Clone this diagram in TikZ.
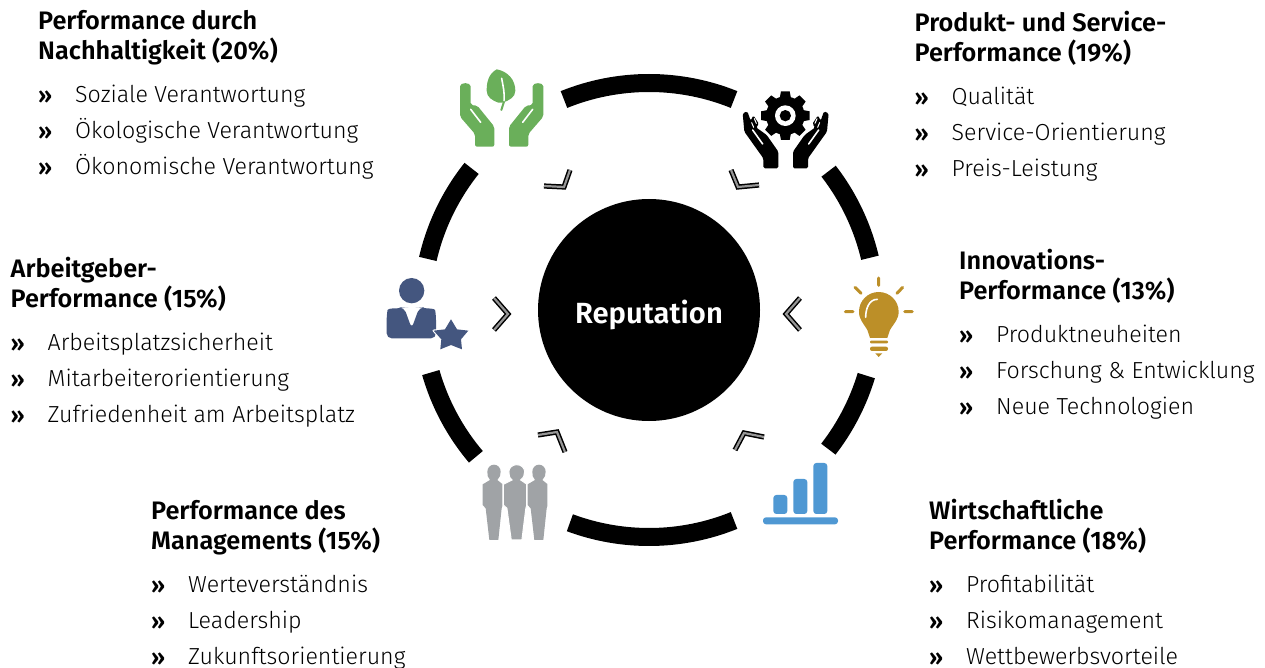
\documentclass[tikz,border=0pt]{standalone}
\usepackage{fontspec}
\usetikzlibrary{calc}
\setmainfont{Fira Sans Light}
\newfontfamily\headfont{Fira Sans SemiBold}
\definecolor{leafgreen}{HTML}{6AAF5A}
\definecolor{bulbgold}{HTML}{BC8F28}
\definecolor{chartblue}{HTML}{4F98D3}
\definecolor{peoplegray}{HTML}{A0A3A6}
\definecolor{staffblue}{HTML}{44567F}
\definecolor{chevgray}{HTML}{969696}
\tikzset{
  ringarc/.style={line width=18pt,black},
  chevout/.style={line width=5.2pt,black,miter limit=10},
  chevin/.style={line width=2.2pt,chevgray,miter limit=10},
  headtext/.style={anchor=base west,inner sep=0pt,font=\headfont\fontsize{25.3}{25}\selectfont,text=black},
  bodytext/.style={anchor=base west,inner sep=0pt,font=\fontsize{23.2}{24}\selectfont,text=black},
  bullettext/.style={anchor=base west,inner sep=0pt,font=\headfont\fontsize{23}{24}\selectfont,text=black},
  whitecut/.style={draw=white,line cap=round,line join=round},
}
\newcommand{\infogroup}[8]{%
  \node[headtext] (#1h1) at (#2,#3) {#4};
  \node[headtext] (#1h2) at (#2,#3+30) {#5};
  \node[bullettext] (#1m1) at (#2,#3+74) {»};
  \node[bullettext] (#1m2) at (#2,#3+110) {»};
  \node[bullettext] (#1m3) at (#2,#3+146) {»};
  \node[bodytext] (#1b1) at (#2+37,#3+73) {#6};
  \node[bodytext] (#1b2) at (#2+37,#3+109) {#7};
  \node[bodytext] (#1b3) at (#2+37,#3+145) {#8};
}
\newcommand{\chev}[3]{%
  \draw[chevout] #1 -- #2 -- #3;
  \draw[chevin] #1 -- #2 -- #3;
}
\newcommand{\leafhand}{%
  \fill[leafgreen,rounded corners=2pt] (60,85) to[out=90,in=90,looseness=1.5] (92,85) -- (92,135) -- (112,137) -- (163,200) -- (163,260) -- (105,260) -- (105,222) -- (60,170) -- cycle;
  \draw[whitecut,line width=1.6pt] (92,148) -- (122,187);
}
\newcommand{\gearhand}{%
  \fill[black,rounded corners=1.5pt] (98,100) -- (112,94) -- (122,122) -- (130,106) -- (147,132) -- (138,142) -- (170,165) -- (205,215) -- (205,265) -- (160,265) -- (160,235) -- (103,155) -- cycle;
  \draw[whitecut,line width=1.6pt] (128,150) -- (158,192);
  \draw[whitecut,line width=1pt] (125,128) -- (131,142);
  \draw[whitecut,line width=1pt] (133,116) -- (139,130);
}
\newcommand{\personshape}{%
  (72,119) to[out=0,in=90] (92,140) to[out=-90,in=45] (82,165) -- (97,177) -- (97,243) -- (95,250) -- (85,345) -- (58,345) -- (47,250) -- (38,240) -- (38,178) -- (60,165) to[out=135,in=-90] (52,140) to[out=90,in=180] (72,119) -- cycle
}
\newcommand{\starshape}{%
  (213,148) -- (231,178) -- (265,182) -- (243,208) -- (246,238) -- (213,225) -- (181,238) -- (184,208) -- (161,182) -- (195,178) -- cycle
}
\begin{document}
\begin{tikzpicture}[x=1pt,y=-1pt]
\useasboundingbox (0,0) rectangle (1265,668);
\coordinate (ctr) at (649,310);
% ring
\foreach \a/\b in {112/68,37.7/13.3,-16.8/-37.8,-68/-110.4,-139.7/-164,167/141.4}{
  \draw[ringarc] ($(ctr)+(\a:227pt)$) arc[start angle=\a,end angle=\b,radius=227pt];
}
% hub
\node[circle,fill=black,minimum size=222pt,inner sep=0pt] (hub) at (649,310) {};
\node[anchor=base,inner sep=0pt,text=white,font=\headfont\fontsize{29.2}{30}\selectfont] (hublabel) at (649,323) {Reputation};
% chevrons
\chev{(544,186)}{(564,187)}{(570,170)}
\chev{(731,170)}{(738,187)}{(759,185)}
\chev{(800,298)}{(786,314)}{(800,330)}
\chev{(735,450)}{(744,433)}{(764,437)}
\chev{(538,435)}{(557,432)}{(565,452)}
\chev{(494,298)}{(508,314)}{(494,330)}
% leaf hands icon
\begin{scope}[shift={(440,60)},x=.3333pt,y=-.3333pt]
  \leafhand
  \begin{scope}[shift={(370,0)},xscale=-1]\leafhand\end{scope}
  \fill[leafgreen] (170,28) to[out=-10,in=90] (226,92) to[out=-90,in=20] (188,128) -- (175,128) to[out=160,in=-90] (140,92) to[out=90,in=-150] (170,28) -- cycle;
  \draw[white,line width=1.6pt,line cap=round] (185,55) to[out=-80,in=85] (192,125);
  \draw[leafgreen,line width=2pt,line cap=round] (192,125) -- (184,150);
\end{scope}
% gear hands icon
\begin{scope}[shift={(710,80)},x=.3333pt,y=-.3333pt]
  \gearhand
  \begin{scope}[shift={(454,0)},xscale=-1]\gearhand\end{scope}
  \foreach \t in {0,45,...,315}{
    \fill[black,rotate around={\t:(226,107)}] (213,34) -- (239,34) -- (244,60) -- (208,60) -- cycle;
  }
  \fill[black] (226,107) circle[radius=58];
  \fill[white] (226,107) circle[radius=31];
  \fill[black] (226,107) circle[radius=17];
\end{scope}
% bulb icon
\begin{scope}[shift={(770,270)},x=.3333pt,y=-.3333pt]
  \fill[bulbgold] (326,66) to[out=0,in=90] (386,125) to[out=-90,in=60] (360,180) -- (352,204) -- (300,204) -- (292,180) to[out=120,in=-90] (267,125) to[out=90,in=180] (326,66) -- cycle;
  \draw[white,line width=1.6pt,line cap=round] (287,142) to[out=90,in=180] (322,88);
  \fill[bulbgold,rounded corners=1pt] (300,212) rectangle (354,220);
  \fill[bulbgold,rounded corners=2pt] (300,230) rectangle (354,243);
  \fill[bulbgold] (316,250) -- (337,250) -- (326,261) -- cycle;
  \draw[bulbgold,line width=3pt,line cap=round] (326,24) -- (326,46) (255,52) -- (273,70) (398,52) -- (381,70) (226,125) -- (249,125) (404,125) -- (427,125);
\end{scope}
% chart icon
\begin{scope}[shift={(730,425)},x=.3333pt,y=-.3333pt]
  \fill[chartblue,rounded corners=3pt] (130,210) rectangle (172,267);
  \fill[chartblue,rounded corners=3pt] (190,162) rectangle (232,267);
  \fill[chartblue,rounded corners=3pt] (250,114) rectangle (292,267);
  \fill[chartblue,rounded corners=3pt] (99,277) rectangle (324,298);
\end{scope}
% people icon
\begin{scope}[shift={(470,425)},x=.3333pt,y=-.3333pt]
  \fill[peoplegray] \personshape;
  \begin{scope}[shift={(135,0)}]\fill[peoplegray] \personshape;\end{scope}
  \begin{scope}[shift={(135,0)},xscale=1.18,shift={(-67.5,0)}]\fill[peoplegray,draw=white,line width=1pt] \personshape;\end{scope}
\end{scope}
% staff icon
\begin{scope}[shift={(380,270)},x=.3333pt,y=-.3333pt]
  \fill[staffblue] (95,62) circle[radius=38];
  \fill[staffblue,rounded corners=5pt] (20,205) -- (20,135) to[out=80,in=190] (70,112) -- (72,112) -- (95,175) -- (118,112) -- (122,112) to[out=-10,in=100] (168,135) -- (168,205) -- cycle;
  \draw[white,line width=2.2pt,line join=round] \starshape;
  \fill[staffblue] \starshape;
\end{scope}
% text blocks
\infogroup{sus}{38}{30}{Performance durch}{Nachhaltigkeit (20\%)}{Soziale Verantwortung}{Ökologische Verantwortung}{Ökonomische Verantwortung}
\infogroup{prod}{914.5}{31.5}{Produkt- und Service-}{Performance (19\%)}{Qualität}{Service-Orientierung}{Preis-Leistung}
\infogroup{inno}{959}{269.5}{Innovations-}{Performance (13\%)}{Produktneuheiten}{Forschung \& Entwicklung}{Neue Technologien}
\infogroup{work}{10.5}{277.5}{Arbeitgeber-}{Performance (15\%)}{Arbeitsplatzsicherheit}{Mitarbeiterorientierung}{Zufriedenheit am Arbeitsplatz}
\infogroup{mgmt}{151}{519}{Performance des}{Managements (15\%)}{Werteverständnis}{Leadership}{Zukunftsorientierung}
\infogroup{econ}{929}{519}{Wirtschaftliche}{Performance (18\%)}{Profitabilität}{Risikomanagement}{Wettbewerbsvorteile}
\end{tikzpicture}
\end{document}
